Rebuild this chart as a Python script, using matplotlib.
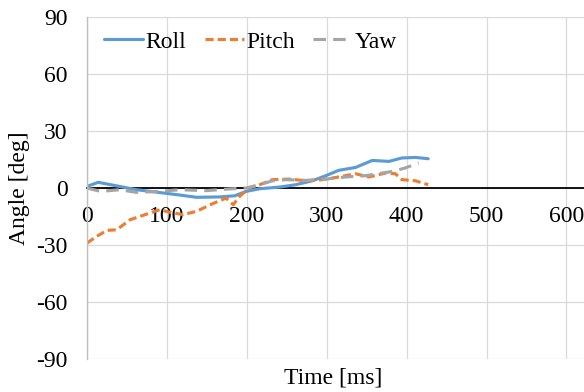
import matplotlib
matplotlib.use("Agg")
import matplotlib.pyplot as plt

plt.rcParams['font.family'] = ['Liberation Serif', 'DejaVu Serif']
plt.rcParams['axes.unicode_minus'] = False

roll_t = [0, 14, 41, 62, 95, 116, 137, 166, 185, 199, 216, 241, 261, 282, 299, 315, 336, 357, 378, 394, 411, 427]
roll_v = [0.8, 3.0, 0.8, -0.9, -2.6, -3.7, -4.9, -4.7, -4.1, -1.8, -0.4, 0.5, 1.7, 3.8, 6.5, 9.3, 10.8, 14.5, 14.0, 15.8, 16.1, 15.4]

pitch_t = [0, 12, 25, 37, 54, 75, 91, 104, 120, 137, 157, 174, 183, 191, 203, 216, 232, 253, 274, 295, 315, 336, 353, 374, 386, 394, 411, 427]
pitch_v = [-29, -25.5, -22.3, -22, -16.7, -13.7, -11.4, -12.8, -14, -12.3, -8.3, -5.3, -8.8, -4.4, 0, 1.7, 4.4, 4.7, 3.8, 4.4, 5.8, 7.5, 5.8, 7.9, 7.5, 4.4, 3.8, 1.7]

yaw_t = [0, 17, 41, 62, 91, 116, 149, 178, 199, 216, 232, 249, 274, 299, 324, 349, 382, 398, 415]
yaw_v = [0, -1.8, -0.9, -2.3, -1.8, -0.9, -1.4, -0.5, 0, 1.7, 3.8, 4.4, 4.0, 4.7, 5.8, 6.5, 8.7, 10.5, 13.2]

xticks = [0, 100, 200, 300, 400, 500, 600]
yticks = [-90, -60, -30, 0, 30, 60, 90]

fig = plt.figure(figsize=(5.84, 3.92), dpi=100)
ax = fig.add_axes([87/584, 33/392, 497/584, 342/392])

ax.plot(roll_t, roll_v, color='#5B9BD5', lw=2.25, label='Roll', solid_capstyle='round', solid_joinstyle='round')
ax.plot(pitch_t, pitch_v, color='#ED7D31', lw=2.25, dashes=(2.6, 1.3), label='Pitch')
ax.plot(yaw_t, yaw_v, color='#A5A5A5', lw=2.25, dashes=(4, 2.3), label='Yaw')

ax.set_xlim(0, 622)
ax.set_ylim(-90, 90)
ax.set_xticks(xticks)
ax.set_yticks(yticks)
ax.grid(True, color='#d9d9d9', lw=0.9)
ax.set_axisbelow(True)

for s in ['top', 'right']:
    ax.spines[s].set_visible(False)
ax.spines['left'].set_color('#bfbfbf')
ax.spines['left'].set_linewidth(1.0)
ax.spines['bottom'].set_position(('data', 0))
ax.spines['bottom'].set_color('black')
ax.spines['bottom'].set_linewidth(1.3)
ax.spines['bottom'].set_zorder(1.5)

ax.tick_params(axis='both', length=0, labelsize=17)
ax.tick_params(axis='x', pad=13)
ax.tick_params(axis='y', pad=14)

fig.text(333/584, 1 - 378/392, 'Time [ms]', ha='center', va='center', fontsize=17)
fig.text(20/584, 1 - 188/392, 'Angle [deg]', ha='center', va='center', rotation=90, fontsize=17)

leg = ax.legend(loc='upper left', bbox_to_anchor=(0.005, 1.0), ncol=3, frameon=False,
                fontsize=17, handlelength=1.65, handletextpad=0.1, columnspacing=0.8,
                borderaxespad=0.2)

fig.savefig('out.png', dpi=100)
